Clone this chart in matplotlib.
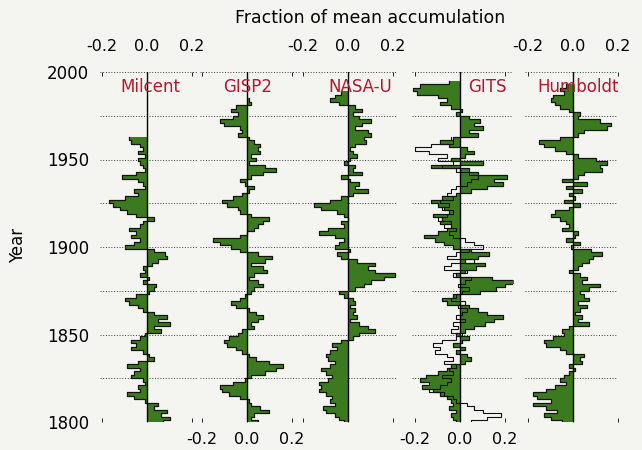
import numpy as np
import matplotlib
matplotlib.use("Agg")
import matplotlib.pyplot as plt

plt.rcParams["font.family"] = ["DejaVu Sans"]

# accumulation anomalies (fraction of mean), one value per 2 years, newest first
milcent_start = 1962
milcent = [-0.08, -0.07, -0.03, -0.02, -0.04, -0.01, -0.04, -0.03, -0.02, -0.01,
           -0.05, -0.11, -0.04, -0.02, -0.01, -0.06, -0.04, -0.10, -0.17, -0.15,
           -0.12, -0.09, -0.05, 0.03, -0.02, -0.03, -0.08, -0.05, -0.07, -0.03,
           -0.06, -0.10, 0.03, 0.08, 0.09, 0.05, 0.02, -0.02, -0.01, -0.03,
           0.01, -0.02, 0.04, 0.03, 0.01, -0.05, -0.10, -0.08, -0.04, -0.02,
           0.03, 0.09, 0.05, 0.10, 0.03, 0.06, -0.01, -0.03, -0.07, -0.05,
           -0.07, -0.02, 0.01, 0.03, -0.04, -0.09, -0.03, -0.06, -0.07, -0.02,
           -0.01, -0.04, -0.03, -0.09, -0.06, -0.01, 0.05, 0.03, 0.09, 0.06,
           0.10, 0.07]

gisp2_start = 1984
gisp2 = [0.01, 0.02, -0.05, -0.07, -0.04, -0.06, -0.12, -0.10, -0.03, -0.02,
         -0.04, 0.01, 0.03, 0.06, 0.05, 0.06, 0.02, 0.04, 0.01, 0.08,
         0.13, 0.07, 0.02, -0.03, -0.01, 0.03, 0.01, -0.02, -0.06, -0.11,
         -0.09, -0.04, -0.03, 0.02, 0.10, 0.07, 0.05, 0.03, 0.00, -0.03,
         -0.15, -0.12, -0.07, -0.03, 0.05, 0.11, 0.08, 0.02, 0.07, 0.09,
         0.03, 0.01, 0.05, 0.07, 0.03, 0.02, -0.01, -0.03, -0.07, -0.05,
         0.01, 0.04, 0.07, 0.05, 0.02, 0.03, -0.02, -0.04, -0.08, -0.10,
         -0.09, -0.05, -0.02, 0.01, 0.04, 0.10, 0.16, 0.13, 0.08, 0.02,
         -0.01, -0.06, -0.12, -0.11, -0.08, -0.03, 0.01, 0.02, 0.06, 0.10,
         0.03, 0.02, 0.05]

nasau_start = 1988
nasau = [-0.03, -0.06, -0.08, -0.04, 0.03, 0.06, 0.02, 0.05, 0.10, 0.06,
         0.03, 0.09, 0.10, 0.07, 0.08, 0.03, 0.01, 0.02, 0.04, 0.01,
         -0.02, 0.03, 0.02, 0.06, -0.03, 0.01, 0.05, 0.03, 0.09, 0.02,
         -0.03, -0.08, -0.15, -0.12, -0.05, -0.02, 0.00, -0.03, -0.02, -0.09,
         -0.13, -0.06, -0.02, -0.04, -0.06, 0.01, -0.05, -0.03, 0.04, 0.12,
         0.09, 0.12, 0.21, 0.16, 0.10, 0.07, 0.03, -0.04, -0.02, 0.02,
         0.03, 0.01, 0.03, 0.02, 0.04, 0.01, 0.05, 0.09, 0.12, 0.05,
         0.02, -0.03, -0.07, -0.05, -0.08, -0.10, -0.09, -0.06, -0.08, -0.12,
         -0.10, -0.07, -0.09, -0.13, -0.12, -0.13, -0.10, -0.07, -0.08, -0.06,
         -0.11, -0.10, -0.06, -0.04, -0.02]

gits_start = 1994
gits = [-0.05, -0.18, -0.21, -0.19, -0.10, -0.06, -0.09, -0.04, 0.01, -0.02,
        0.04, 0.09, 0.06, 0.10, 0.04, 0.08, -0.03, -0.09, -0.05, 0.03,
        0.06, 0.02, -0.04, 0.10, -0.13, 0.04, 0.08, 0.21, 0.15, 0.19,
        0.12, 0.05, -0.02, -0.08, -0.13, -0.10, -0.07, -0.05, -0.12, -0.08,
        -0.09, -0.04, -0.06, -0.10, -0.16, -0.11, -0.07, -0.03, 0.05, 0.13,
        0.08, 0.02, 0.11, 0.07, 0.02, -0.02, 0.14, 0.25, 0.20, 0.16,
        0.09, -0.03, -0.08, -0.06, 0.04, 0.08, 0.12, 0.19, 0.15, 0.11,
        0.06, 0.02, -0.02, 0.04, 0.01, -0.03, 0.02, -0.02, 0.03, 0.05,
        0.02, -0.04, -0.06, -0.10, -0.15, -0.18, -0.14, -0.17, -0.12, -0.09,
        -0.06, -0.04, -0.03, -0.05, -0.02, -0.04, -0.03, -0.02]

# second GITS record, drawn as outline only
gits_old_start = 1962
gits_old = [-0.04, -0.03, -0.13, -0.20, -0.14, -0.06, -0.10, -0.03, -0.08, -0.02,
            0.04, 0.08, 0.05, 0.03, -0.02, -0.04, -0.06, -0.03, -0.09, -0.05,
            -0.08, -0.03, -0.06, -0.10, -0.04, -0.07, -0.02, -0.05, -0.03, 0.02,
            0.06, 0.10, 0.04, -0.02, -0.06, 0.06, -0.04, -0.07, 0.03, -0.03,
            0.05, 0.02, -0.01, 0.04, 0.01, -0.02, -0.04, 0.02, -0.01, 0.03,
            0.01, -0.02, 0.02, -0.03, -0.01, -0.04, 0.01, -0.02, -0.08, -0.12,
            -0.09, -0.11, -0.06, -0.03, -0.07, -0.02, -0.05, -0.03, -0.08, -0.04,
            -0.06, -0.09, -0.14, -0.07, -0.03, -0.02, 0.03, 0.06, 0.10, 0.18,
            0.12, 0.05]

humboldt_start = 1992
humboldt = [-0.03, -0.06, -0.04, -0.09, -0.10, -0.08, -0.06, -0.02, 0.03, 0.02,
            0.12, 0.17, 0.15, 0.05, 0.02, -0.06, -0.15, -0.13, -0.08, -0.03,
            0.02, 0.10, 0.15, 0.12, 0.13, 0.05, 0.02, -0.05, 0.06, -0.03,
            0.04, -0.02, 0.01, -0.04, 0.03, -0.02, -0.08, -0.10, -0.06, -0.03,
            -0.02, -0.05, 0.02, 0.01, -0.03, 0.03, -0.01, 0.08, 0.13, 0.09,
            0.07, 0.04, 0.02, -0.02, 0.03, 0.06, 0.04, 0.12, 0.07, 0.03,
            0.05, 0.07, 0.02, 0.06, 0.03, 0.01, 0.04, 0.02, 0.07, -0.02,
            -0.05, -0.04, -0.09, -0.13, -0.12, -0.06, -0.03, 0.05, 0.03, 0.04,
            -0.02, 0.01, -0.02, -0.04, -0.06, -0.03, -0.08, -0.12, -0.18, -0.16,
            -0.10, -0.18, -0.12, -0.07, -0.13, -0.10, -0.05]

names = ["Milcent", "GISP2", "NASA-U", "GITS", "Humboldt"]
series = [(milcent_start, milcent), (gisp2_start, gisp2), (nasau_start, nasau),
          (gits_start, gits), (humboldt_start, humboldt)]

W, H = 642, 450
bg = "#f4f4f1"
green = "#3b7a1e"
red = "#b3182e"

# panel placement in pixels: left, right, zero line
panels = [(100, 197, 147), (200, 300, 247), (302, 397, 348), (412, 513, 460), (525, 618, 573)]
label_x = [150, 248, 360, 487, 578]
px_per_unit = 225.0
top_px, bot_px = 72, 422


def step_xy(start, vals):
    vals = np.asarray(vals)
    yrs = start - 2 * np.arange(len(vals))
    ye = np.column_stack([yrs + 1, yrs - 1]).ravel()
    xe = np.repeat(vals, 2)
    ye = np.clip(ye, 1800, 2000)
    return xe, ye


fig = plt.figure(figsize=(W / 100, H / 100), dpi=100, facecolor=bg)

for i, (l, r, z) in enumerate(panels):
    ax = fig.add_axes([l / W, 1 - bot_px / H, (r - l) / W, (bot_px - top_px) / H])
    ax.set_facecolor("none")
    ax.set_xlim((l - z) / px_per_unit, (r - z) / px_per_unit)
    ax.set_ylim(1800, 2000)
    for s in ax.spines.values():
        s.set_visible(False)
    for yr in range(1800, 2001, 25):
        ax.axhline(yr, color="#3a3a3a", lw=0.7, ls=(0, (1, 1.8)), zorder=1)

    start, vals = series[i]
    xe, ye = step_xy(start, vals)
    ax.fill_betweenx(ye, 0, xe, color=green, lw=0, zorder=2)
    ax.plot(xe, ye, color="#151510", lw=0.9, zorder=3)
    if names[i] == "GITS":
        xo, yo = step_xy(gits_old_start, gits_old)
        ax.plot(xo, yo, color="#111111", lw=0.8, zorder=4)
    ax.axvline(0, color="black", lw=1.0, zorder=4)

    ax.text((label_x[i] - z) / px_per_unit, 1991.5, names[i],
            color=red, fontsize=12, ha="center", va="center", zorder=5)

    ax.set_xticks([-0.2, 0.0, 0.2])
    ax.set_xticklabels(["-0.2", "0.0", "0.2"])
    ax.tick_params(axis="x", length=3, width=0.6, direction="in", labelsize=11.5)
    if i % 2 == 0:
        ax.tick_params(axis="x", top=True, labeltop=True, bottom=True, labelbottom=False, pad=13)
    else:
        ax.tick_params(axis="x", top=True, labeltop=False, bottom=True, labelbottom=True, pad=7)
    if i == 0:
        ax.set_yticks([1800, 1850, 1900, 1950, 2000])
        ax.tick_params(axis="y", length=0, pad=8, labelsize=12)
    else:
        ax.set_yticks([])

fig.text(370 / W, 1 - 18 / H, "Fraction of mean accumulation", ha="center", va="center", fontsize=12.5)
fig.text(18 / W, 1 - 245 / H, "Year", rotation=90, ha="center", va="center", fontsize=12)

fig.savefig("out.png", dpi=100, facecolor=bg)
